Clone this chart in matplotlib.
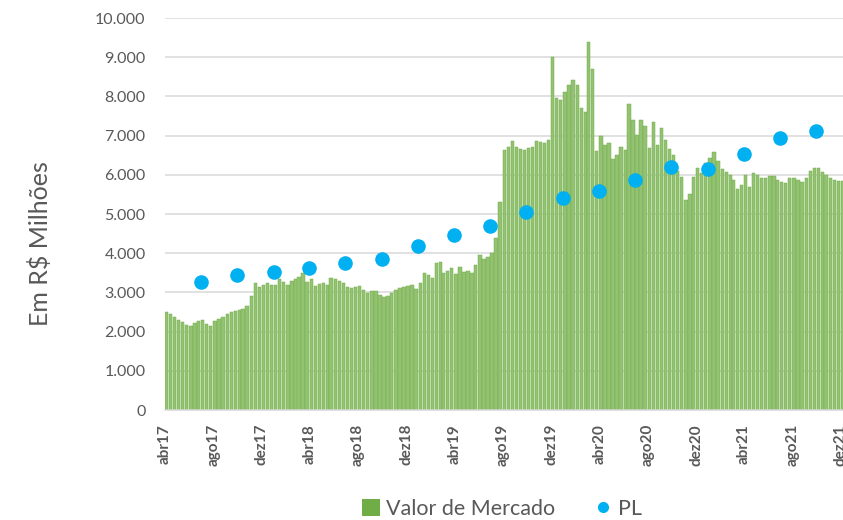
import matplotlib
matplotlib.use("Agg")
import matplotlib.pyplot as plt
import matplotlib.transforms as mtransforms
from matplotlib.ticker import FuncFormatter, MultipleLocator
from matplotlib.lines import Line2D
from matplotlib.patches import Patch
import datetime as dt

plt.rcParams['font.family'] = ['Lato', 'DejaVu Sans']

# ---- data ----
# Valor de Mercado (R$ milhões), three readings per month (days 1, 11, 21), Apr 2017 .. Dec 2021
start_year, start_month, n_months = 2017, 4, 57
sample_days = [1, 11, 21]
valor_mercado = [
    2500, 2450, 2380,  2300, 2250, 2180,  2150, 2230, 2280,  2300, 2200, 2140,   # abr17-jul17
    2280, 2330, 2380,  2450, 2510, 2530,  2550, 2570, 2650,  2900, 3230, 3130,   # ago17-nov17
    3190, 3230, 3180,  3200, 3350, 3270,  3190, 3300, 3350,  3400, 3500, 3270,   # dez17-mar18
    3340, 3160, 3220,  3250, 3190, 3360,  3330, 3300, 3230,  3150, 3100, 3140,   # abr18-jul18
    3160, 3050, 2975,  3030, 3040, 2930,  2870, 2900, 2975,  3050, 3100, 3130,   # ago18-nov18
    3160, 3200, 3080,  3230, 3500, 3450,  3375, 3750, 3780,  3500, 3550, 3615,   # dez18-mar19
    3480, 3655, 3520,  3550, 3500, 3700,  3950, 3850, 3900,  4010, 4400, 5300,   # abr19-jul19
    6630, 6700, 6850,  6720, 6650, 6630,  6680, 6700, 6850,  6830, 6800, 6880,   # ago19-nov19
    9000, 7950, 7900,  8100, 8300, 8420,  8290, 7700, 7600,  9390, 8700, 6600,   # dez19-mar20
    7000, 6750, 6800,  6400, 6500, 6700,  6630, 7800, 7400,  7015, 7400, 7250,   # abr20-jul20
    6680, 7350, 6750,  7200, 6900, 6650,  6500, 6100, 5950,  5360, 5500, 5950,   # ago20-nov20
    6165, 6040, 6300,  6420, 6570, 6350,  6150, 6080, 6000,  5880, 5650, 5750,   # dez20-mar21
    6000, 5700, 6050,  6000, 5910, 5920,  5960, 5970, 5870,  5820, 5800, 5930,   # abr21-jul21
    5920, 5870, 5825,  5930, 6100, 6180,  6180, 6080, 6000,  5910, 5860, 5850,   # ago21-nov21
    5850, 5850, 5850,                                                            # dez21
]

# PL (quarter ends, Jun 2017 .. Sep 2021)
pl_quarter_ends = ["2017-06-30", "2017-09-30", "2017-12-31", "2018-03-31", "2018-06-30",
                   "2018-09-30", "2018-12-31", "2019-03-31", "2019-06-30", "2019-09-30",
                   "2019-12-31", "2020-03-31", "2020-06-30", "2020-09-30", "2020-12-31",
                   "2021-03-31", "2021-06-30", "2021-09-30"]
pl_values = [3260, 3450, 3510, 3620, 3750, 3840, 4180, 4460, 4690, 5060,
             5420, 5590, 5870, 6190, 6160, 6530, 6930, 7120]

month_abbr = ["jan", "fev", "mar", "abr", "mai", "jun", "jul", "ago", "set", "out", "nov", "dez"]

# ---- build dates ----
vm_dates = []
for k in range(n_months):
    y = start_year + (start_month - 1 + k) // 12
    m = (start_month - 1 + k) % 12 + 1
    for d in sample_days:
        vm_dates.append(dt.date(y, m, d))
pl_dates = [dt.date.fromisoformat(s) for s in pl_quarter_ends]

# ---- figure ----
W, H = 843, 520
fig = plt.figure(figsize=(W / 100, H / 100), dpi=100)
ax_left, ax_right, ax_top, ax_bottom = 165, 853, 18, 410
ax = fig.add_axes([ax_left / W, 1 - ax_bottom / H, (ax_right - ax_left) / W, (ax_bottom - ax_top) / H])

green = "#70AD47"
green_fill = "#93C272"
green_edge = "#74AE4C"
blue = "#00B0F0"
grid_c = "#D9D9D9"
text_c = "#595959"

ax.bar(vm_dates, valor_mercado, width=8.5, facecolor=green_fill, edgecolor=green_edge,
       linewidth=0.35, zorder=2, align="edge")
ax.plot(pl_dates, pl_values, linestyle="none", marker="o", markersize=10.5,
        color=blue, markeredgewidth=0, zorder=3)

ax.set_xlim(dt.date(2017, 4, 1), dt.date(2022, 1, 1))
ax.set_ylim(0, 10000)
ax.yaxis.set_major_locator(MultipleLocator(1000))
ax.yaxis.set_major_formatter(FuncFormatter(lambda v, p: f"{int(v):,}".replace(",", ".")))
ax.grid(axis="y", color=grid_c, linewidth=1.1, zorder=0)
ax.set_axisbelow(True)

ticks = []
labels = []
for k in range(0, n_months, 4):
    y = start_year + (start_month - 1 + k) // 12
    m = (start_month - 1 + k) % 12 + 1
    ticks.append(dt.date(y, m, 1))
    labels.append(f"{month_abbr[m - 1]}{str(y)[2:]}")
ax.set_xticks(ticks)
ax.set_xticklabels(labels, rotation=90, fontweight="bold", fontsize=11, color=text_c)
offset = mtransforms.ScaledTranslation(-8 / 100, 0, fig.dpi_scale_trans)
for lab in ax.get_xticklabels():
    lab.set_transform(lab.get_transform() + offset)

ax.tick_params(axis="x", length=0, pad=10)
ax.tick_params(axis="y", length=0, pad=14, labelsize=11.5, labelcolor=text_c)
for s in ["top", "right", "left"]:
    ax.spines[s].set_visible(False)
ax.spines["bottom"].set_color(grid_c)
ax.spines["bottom"].set_linewidth(1.1)

fig.text(40 / W, 1 - 244 / H, "Em R$ Milhões", rotation=90, ha="center", va="center",
         fontsize=18, color=text_c)

handles = [Patch(facecolor=green, edgecolor="none"),
           Line2D([], [], linestyle="none", marker="o", markersize=8, color=blue, markeredgewidth=0)]
fig.legend(handles, ["Valor de Mercado", "PL"], loc="center", bbox_to_anchor=(502 / W, 1 - 509 / H),
           ncol=2, frameon=False, fontsize=15.5, labelcolor=text_c, handlelength=0.8,
           handleheight=0.8, handletextpad=0.3, columnspacing=1.8)

fig.savefig("out.png", dpi=100)
